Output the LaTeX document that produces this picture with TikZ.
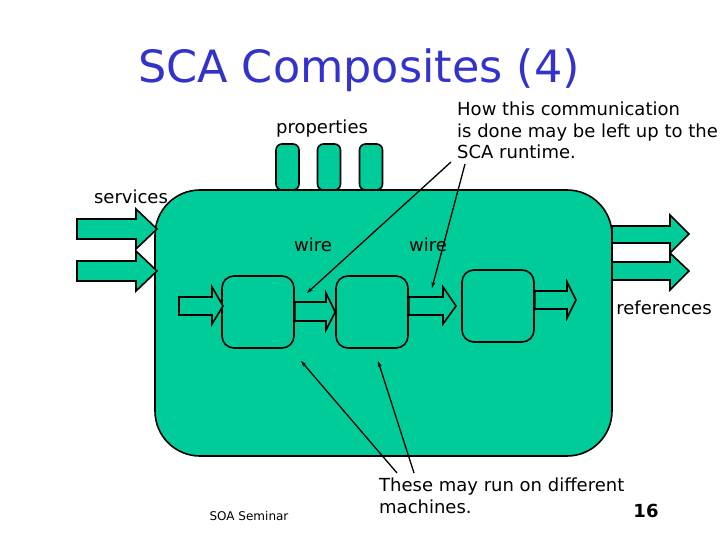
\documentclass[tikz,border=0pt]{standalone}
\usepackage{fontspec}
\setmainfont{DejaVu Sans}
\usetikzlibrary{arrows.meta}
\definecolor{cgreen}{RGB}{0,204,153}
\definecolor{ctitle}{RGB}{51,51,204}
\begin{document}
\begin{tikzpicture}[x=1pt,y=-1pt,
  outline/.style={draw=black,line width=1.6pt,line join=miter},
  gbox/.style={outline,fill=cgreen,inner sep=0pt},
  fat/.style={outline,fill=cgreen},
  callout/.style={draw=black,line width=1.3pt,-{Stealth[length=6pt,width=4pt]}},
  lbl/.style={font=\fontsize{18}{21.5}\selectfont,inner sep=0pt}]
\useasboundingbox (0,0) rectangle (720,540);
% title
\node[font=\fontsize{44.5}{50}\selectfont,text=ctitle,inner sep=0pt] (title) at (359,70) {SCA Composites (4)};
% composite
\node[gbox,rounded corners=45pt,minimum width=457pt,minimum height=266pt] (comp) at (383.5,323) {};
% properties
\node[gbox,rounded corners=6pt,minimum width=23pt,minimum height=46pt] (p1) at (287.5,167) {};
\node[gbox,rounded corners=6pt,minimum width=23pt,minimum height=46pt] (p2) at (329,167) {};
\node[gbox,rounded corners=6pt,minimum width=23pt,minimum height=46pt] (p3) at (371,167) {};
\node[lbl] (props) at (322,129) {properties};
% services arrows
\draw[fat] (77,219) -- (136,219) -- (136,209) -- (157,229) -- (136,249) -- (136,239) -- (77,239) -- cycle;
\draw[fat] (77,261) -- (136,261) -- (136,251) -- (157,271) -- (136,291) -- (136,281) -- (77,281) -- cycle;
\node[lbl] (services) at (131,197) {services};
% references arrows
\draw[fat] (612,226) -- (670,226) -- (670,215) -- (689,234) -- (670,253) -- (670,243) -- (612,243) -- cycle;
\draw[fat] (612,262) -- (670,262) -- (670,253) -- (689,271) -- (670,290) -- (670,280) -- (612,280) -- cycle;
\node[lbl] (refs) at (664,308) {references};
% components
\node[gbox,rounded corners=12pt,minimum width=72pt,minimum height=72pt] (c1) at (258,312) {};
\node[gbox,rounded corners=12pt,minimum width=72pt,minimum height=72pt] (c2) at (372,312) {};
\node[gbox,rounded corners=12pt,minimum width=72pt,minimum height=72pt] (c3) at (498,306) {};
% inner arrows
\draw[fat] (179,297) -- (212,297) -- (212,287) -- (223,306) -- (212,324) -- (212,315) -- (179,315) -- cycle;
\draw[fat] (c1.east|-0,302) -- (326,302) -- (326,293) -- (c2.west|-0,312) -- (326,330) -- (326,321) -- (c1.east|-0,321) -- cycle;
\draw[fat] (c2.east|-0,297) -- (443,297) -- (443,287) -- (456,306) -- (443,324) -- (443,315) -- (c2.east|-0,315) -- cycle;
\draw[fat] (c3.east|-0,291) -- (567,291) -- (567,282) -- (576,300) -- (567,318) -- (567,309) -- (c3.east|-0,309) -- cycle;
% wire labels
\node[lbl] (wire1) at (313,245) {wire};
\node[lbl] (wire2) at (428,245) {wire};
% notes
\node[lbl,anchor=north west,align=left] (note1) at (457,102) {How this communication\\is done may be left up to the\\SCA runtime.};
\node[lbl,anchor=north west,align=left] (note2) at (379,478) {These may run on different\\machines.};
\coordinate (n1a) at (451,162);
\coordinate (n1b) at (465,164);
\coordinate (w1) at (307,293);
\coordinate (w2) at (432,288);
\coordinate (n2a) at (397,473);
\coordinate (n2b) at (414,473);
\coordinate (m1) at (301,361);
\coordinate (m2) at (378,361);
\draw[callout] (n1a) -- (w1);
\draw[callout] (n1b) -- (w2);
\draw[callout] (n2a) -- (m1);
\draw[callout] (n2b) -- (m2);
% footer
\node[font=\fontsize{12}{14}\selectfont,inner sep=0pt] (seminar) at (249,516) {SOA Seminar};
\node[font=\fontsize{18}{21}\selectfont\bfseries,inner sep=0pt] (pagenum) at (646,511) {16};
\end{tikzpicture}
\end{document}
